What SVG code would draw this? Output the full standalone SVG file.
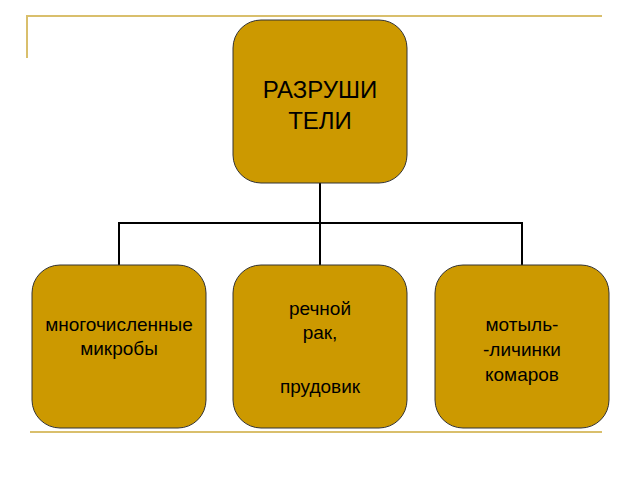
<svg xmlns="http://www.w3.org/2000/svg" width="640" height="480" viewBox="0 0 640 480">
<style>
.n{fill:#CC9900;stroke:#333;stroke-width:1}
.t{font-family:"Liberation Sans",Arial,sans-serif;fill:#000;text-anchor:middle}
.c{stroke:#000;stroke-width:2;fill:none}
.d{stroke:#D9BF6C;stroke-width:2;fill:none}
</style>
<rect width="640" height="480" fill="#fff"/>
<g id="decor"><path class="d" d="M27 58V16H602"/><path class="d" d="M30 432H602"/></g>
<g id="connectors"><path class="c" d="M320 183V223M119 265V223H522V265M320 223V265"/></g>
<g id="top"><rect class="n" x="233" y="20" width="174" height="163" rx="28"/>
<text class="t" x="320" y="98" font-size="24">РАЗРУШИ</text><text class="t" x="320" y="129" font-size="24">ТЕЛИ</text></g>
<g id="n1"><rect class="n" x="32" y="265" width="174" height="163" rx="28"/>
<text class="t" x="119" y="331" font-size="19">многочисленные</text><text class="t" x="119" y="355" font-size="19">микробы</text></g>
<g id="n2"><rect class="n" x="233" y="265" width="174" height="163" rx="28"/>
<text class="t" x="320" y="315" font-size="19">речной</text><text class="t" x="320" y="339" font-size="19">рак,</text><text class="t" x="320" y="393" font-size="19">прудовик</text></g>
<g id="n3"><rect class="n" x="435" y="265" width="174" height="163" rx="28"/>
<text class="t" x="522" y="331" font-size="19">мотыль-</text><text class="t" x="522" y="356" font-size="19">-личинки</text><text class="t" x="522" y="381" font-size="19">комаров</text></g>
</svg>
